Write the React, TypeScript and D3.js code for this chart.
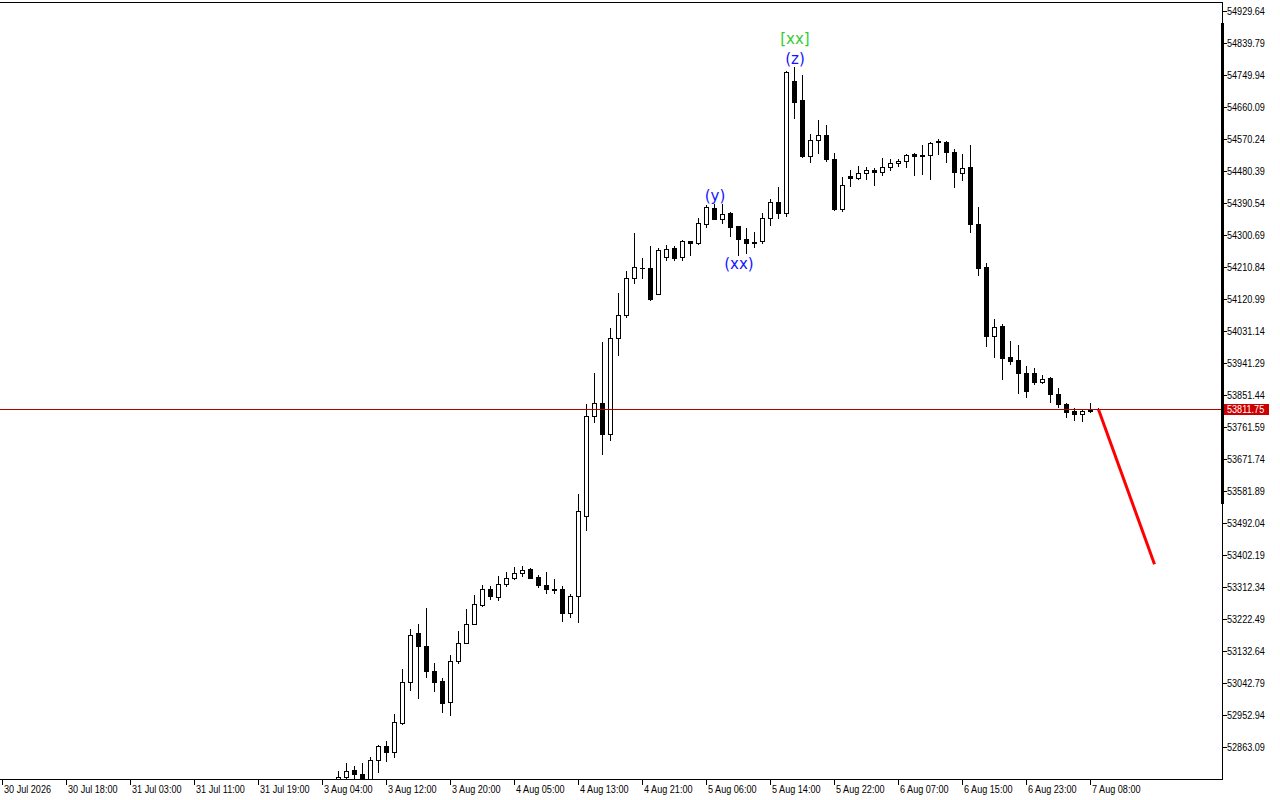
import React from "react";
import * as d3 from "d3";

// ---- data ----
const firstBar = 42; // index of the first visible hourly bar
const opens = [
  52764.8, 52779.7, 52798.5, 52789.3, 52764.8, 52828.6, 52867.9, 52849.9, 52931.3, 53047.6,
  53183.2, 53148.7, 53078.5, 53050.4, 52990.3, 53106.5, 53157.1, 53210.4, 53263.8, 53308.7,
  53286.2, 53322.7, 53339.6, 53353.6, 53364.9, 53342.4, 53319.9, 53308.7, 53308.7, 53241.3,
  53289.1, 53513.7, 53792.5, 53831.0, 53743.4, 54013.5, 54078.0, 54181.9, 54210.0, 54210.0,
  54137.0, 54239.8, 54266.2, 54239.8, 54284.7, 54280.2, 54333.6, 54378.5, 54347.6, 54364.4,
  54326.0, 54291.4, 54283.0, 54285.8, 54350.4, 54395.3, 54363.3, 54733.1, 54679.8, 54524.5,
  54569.4, 54583.4, 54516.1, 54375.7, 54466.4, 54462.7, 54476.8, 54485.2, 54479.6, 54493.6,
  54504.8, 54510.4, 54530.1, 54527.3, 54527.3, 54564.6, 54563.8, 54535.7, 54476.8, 54493.6,
  54333.6, 54210.9, 54018.0, 54047.2, 53958.2, 53949.7, 53915.2, 53915.2, 53888.8, 53901.2,
  53856.2, 53828.1, 53806.5, 53798.9, 53811.3, 53813.5,
];
const highs = [
  52795.7, 52818.2, 52811.7, 52818.2, 52835.0, 52869.0, 52881.9, 52955.8, 53083.0, 53196.4,
  53208.5, 53255.4, 53100.9, 53058.8, 53123.4, 53188.8, 53252.6, 53289.9, 53319.9, 53317.1,
  53345.2, 53356.4, 53370.5, 53373.3, 53366.5, 53346.0, 53356.4, 53336.8, 53317.1, 53294.7,
  53575.4, 53826.2, 53913.2, 54000.3, 54039.6, 54137.8, 54199.6, 54306.3, 54237.0, 54269.8,
  54266.2, 54274.6, 54271.8, 54288.6, 54285.8, 54349.3, 54384.9, 54389.7, 54387.7, 54365.0,
  54326.5, 54322.3, 54311.1, 54363.3, 54403.7, 54435.5, 54763.1, 54773.3, 54749.9, 54586.3,
  54625.6, 54611.5, 54532.9, 54465.5, 54485.2, 54496.4, 54492.5, 54490.8, 54518.9, 54516.1,
  54516.1, 54530.1, 54531.0, 54555.4, 54563.8, 54572.2, 54566.6, 54544.1, 54530.1, 54553.4,
  54381.3, 54224.0, 54066.8, 54050.8, 54003.1, 53991.8, 53934.8, 53929.2, 53909.6, 53902.8,
  53871.1, 53829.8, 53816.9, 53809.3, 53831.0, 53816.9,
];
const lows = [
  52756.4, 52770.5, 52778.0, 52759.2, 52756.4, 52793.8, 52823.8, 52835.9, 52929.5, 53023.2,
  53002.7, 53060.5, 53020.3, 52962.2, 52953.8, 53099.8, 53155.0, 53209.0, 53259.9, 53279.5,
  53276.7, 53317.1, 53336.8, 53345.2, 53338.0, 53314.3, 53297.5, 53297.5, 53217.7, 53229.0,
  53214.9, 53473.2, 53776.5, 53687.2, 53727.1, 53965.7, 54072.0, 54167.9, 54181.9, 54120.0,
  54135.0, 54232.5, 54232.5, 54232.5, 54245.9, 54277.4, 54325.1, 54346.0, 54335.2, 54299.9,
  54246.5, 54252.1, 54269.0, 54280.2, 54328.8, 54350.4, 54354.1, 54630.1, 54521.0, 54507.6,
  54532.9, 54510.4, 54372.9, 54370.1, 54439.1, 54458.8, 54459.9, 54441.9, 54471.1, 54485.2,
  54496.4, 54492.5, 54470.0, 54472.8, 54458.8, 54530.1, 54507.1, 54436.9, 54457.1, 54310.0,
  54188.4, 53989.9, 53959.0, 53897.2, 53939.3, 53857.9, 53846.7, 53883.2, 53886.0, 53832.6,
  53818.6, 53790.5, 53782.1, 53779.3, 53804.6, 53809.0,
];
const closes = [
  52779.7, 52797.7, 52789.3, 52770.5, 52828.6, 52867.9, 52849.9, 52934.1, 53047.6, 53179.5,
  53147.5, 53077.3, 53046.5, 52987.5, 53106.5, 53157.1, 53210.4, 53266.6, 53308.7, 53289.1,
  53322.7, 53339.6, 53353.6, 53362.1, 53339.6, 53319.9, 53308.7, 53305.9, 53241.3, 53289.1,
  53527.7, 53792.5, 53831.0, 53743.4, 54013.5, 54078.0, 54181.9, 54212.8, 54209.5, 54121.8,
  54260.6, 54263.4, 54238.1, 54284.7, 54280.2, 54336.4, 54379.3, 54347.6, 54361.6, 54325.1,
  54291.4, 54280.2, 54280.2, 54350.4, 54395.3, 54363.9, 54760.3, 54675.0, 54522.5, 54569.4,
  54583.4, 54514.9, 54374.5, 54443.1, 54462.7, 54476.8, 54485.2, 54479.6, 54493.6, 54504.8,
  54510.4, 54527.3, 54524.5, 54524.5, 54561.0, 54561.8, 54535.2, 54479.0, 54490.8, 54332.4,
  54210.0, 54018.0, 54044.3, 53956.2, 53947.8, 53914.1, 53863.5, 53888.8, 53898.3, 53855.1,
  53828.1, 53804.6, 53798.9, 53808.5, 53807.4, 53811.75,
];
const timeLabels = [
  "30 Jul 2026", "30 Jul 18:00", "31 Jul 03:00", "31 Jul 11:00", "31 Jul 19:00",
  "3 Aug 04:00", "3 Aug 12:00", "3 Aug 20:00", "4 Aug 05:00", "4 Aug 13:00",
  "4 Aug 21:00", "5 Aug 06:00", "5 Aug 14:00", "5 Aug 22:00", "6 Aug 07:00",
  "6 Aug 15:00", "6 Aug 23:00", "7 Aug 08:00",
];
const timeLabelStep = 8; // bars between time labels
const priceTicks = [
  "54929.64", "54839.79", "54749.94", "54660.09", "54570.24", "54480.39", "54390.54",
  "54300.69", "54210.84", "54120.99", "54031.14", "53941.29", "53851.44", "53761.59",
  "53671.74", "53581.89", "53492.04", "53402.19", "53312.34", "53222.49", "53132.64",
  "53042.79", "52952.94", "52863.09",
];
const lastPrice = 53811.75;
const waveLabels = [
  { bar: 89, text: "(y)", kind: "minor", pos: "above" },
  { bar: 92, text: "(xx)", kind: "minor", pos: "below" },
  { bar: 99, text: "(z)", kind: "minor", pos: "above" },
  { bar: 99, text: "[xx]", kind: "major", pos: "above2" },
];
const projectionBars = [137, 144];
const projectionPrices = [53811.75, 53377.0];

// ---- layout ----
const W = 1280, H = 800;
const plotRight = 1222, plotTop = 3, plotBottom = 779;
const axisFont = "'Liberation Sans', Arial, sans-serif";

export default function App() {
  const x = d3.scaleLinear().domain([0, 152.5]).range([2, 1222]);
  const pMin = +priceTicks[priceTicks.length - 1];
  const pMax = +priceTicks[0];
  const y = d3.scaleLinear().domain([pMin, pMax]).range([747.3, 11.3]);
  const ry = (p: number) => Math.round(y(p));

  const candles = opens.map((o, k) => {
    const i = firstBar + k;
    const c = closes[k], h = highs[k], l = lows[k];
    const cx = Math.round(x(i));
    const top = ry(Math.max(o, c));
    const bot = ry(Math.min(o, c));
    const up = c > o;
    const wick = (
      <line key={"w" + i} x1={cx + 0.5} x2={cx + 0.5} y1={ry(h)} y2={ry(l) + 1} stroke="#000" strokeWidth={1} />
    );
    let body;
    if (bot - top < 1) {
      body = <line key={"b" + i} x1={cx - 2} x2={cx + 3} y1={top + 0.5} y2={top + 0.5} stroke="#000" strokeWidth={1} />;
    } else if (up) {
      body = <rect key={"b" + i} x={cx - 1.5} y={top + 0.5} width={4} height={bot - top} fill="#fff" stroke="#000" strokeWidth={1} />;
    } else {
      body = <rect key={"b" + i} x={cx - 2} y={top} width={5} height={bot - top + 1} fill="#000" />;
    }
    return <g key={i}>{wick}{body}</g>;
  });

  const lastY = ry(lastPrice);
  const line = d3.line<number>().x((_, k) => x(projectionBars[k]) + 0.5).y((p) => y(p));

  return (
    <svg width={W} height={H} style={{ position: "absolute", left: 0, top: 0, background: "#fff" }}>
      <defs>
        <clipPath id="plot">
          <rect x={0} y={plotTop} width={plotRight} height={plotBottom - plotTop} />
        </clipPath>
      </defs>
      <rect x={0} y={0} width={W} height={H} fill="#fff" />
      <g clipPath="url(#plot)">
        {candles}
        <line x1={0} x2={plotRight} y1={lastY + 0.5} y2={lastY + 0.5} stroke="#b40000" strokeWidth={1} />
        <path d={line(projectionPrices) || ""} stroke="#ff0000" strokeWidth={3} fill="none" />
      </g>
      {/* frame */}
      <line x1={0} x2={plotRight + 1} y1={plotTop - 0.5} y2={plotTop - 0.5} stroke="#000" />
      <line x1={plotRight + 0.5} x2={plotRight + 0.5} y1={plotTop - 1} y2={plotBottom + 1} stroke="#000" />
      <line x1={0} x2={plotRight + 1} y1={plotBottom + 0.5} y2={plotBottom + 0.5} stroke="#000" />
      <rect x={1221} y={23} width={3} height={481} fill="#000" />
      {/* price axis */}
      {priceTicks.map((t) => {
        const ty = ry(+t);
        return (
          <g key={t}>
            <line x1={plotRight} x2={plotRight + 5} y1={ty + 0.5} y2={ty + 0.5} stroke="#000" />
            <text transform={`translate(1227,${ty + 4}) scale(0.91,1)`} fontFamily={axisFont} fontSize={10} fill="#000">
              {t}
            </text>
          </g>
        );
      })}
      <rect x={1224} y={lastY - 5} width={45} height={11} fill="#cc0000" />
      <text transform={`translate(1227,${lastY + 4}) scale(0.91,1)`} fontFamily={axisFont} fontSize={10} fill="#fff">
        {lastPrice.toFixed(2)}
      </text>
      {/* time axis */}
      {timeLabels.map((t, k) => {
        const tx = Math.round(x(k * timeLabelStep));
        return (
          <g key={t}>
            <line x1={tx + 0.5} x2={tx + 0.5} y1={plotBottom} y2={plotBottom + 6} stroke="#000" />
            <text transform={`translate(${tx + 2},793) scale(0.91,1)`} fontFamily={axisFont} fontSize={10} fill="#000">
              {t}
            </text>
          </g>
        );
      })}
      {/* wave labels */}
      {waveLabels.map((w) => {
        const k = w.bar - firstBar;
        const cx = x(w.bar) + 1;
        let by: number;
        if (w.pos === "below") by = y(lows[k]) + 14;
        else if (w.pos === "above") by = y(highs[k]) - 3;
        else by = y(highs[k]) - 23;
        return (
          <text key={w.text + w.bar} x={cx} y={by} textAnchor="middle" fontFamily="'DejaVu Sans', sans-serif" fontSize={15}
            fill={w.kind === "major" ? "#33cc33" : "#1414ff"}>
            {w.text}
          </text>
        );
      })}
    </svg>
  );
}
